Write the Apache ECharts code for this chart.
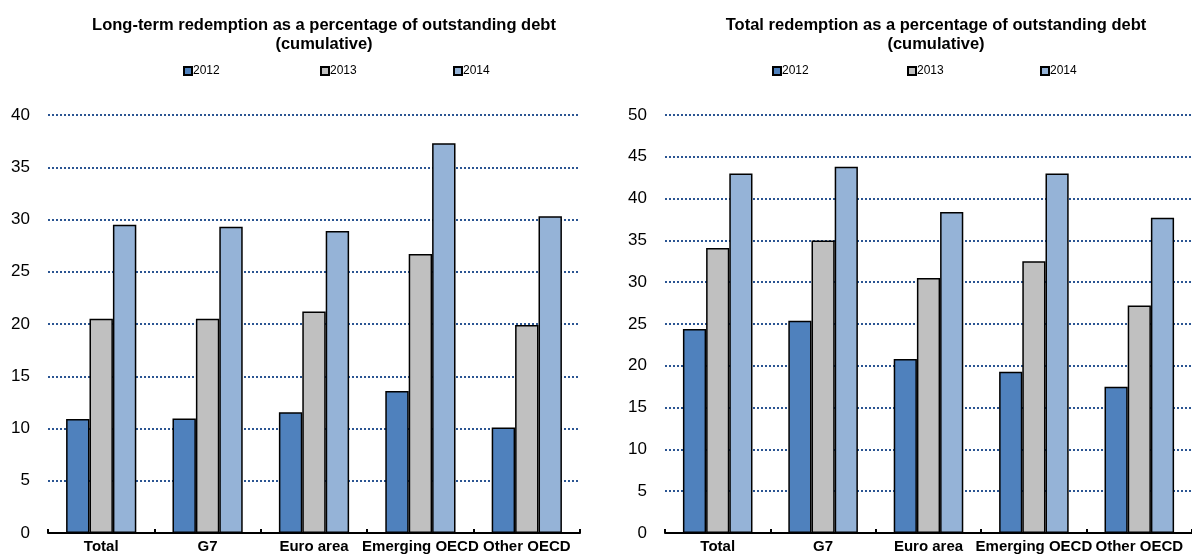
<!DOCTYPE html>
<html>
<head>
<meta charset="utf-8">
<script src="https://cdn.jsdelivr.net/npm/echarts@6/dist/echarts.min.js"></script>
<style>
  html, body { margin: 0; padding: 0; background: #ffffff; }
  #chart { width: 1192px; height: 554px; }
</style>
</head>
<body>
<div id="chart"></div>
<script>
// Country groups on the category axis
const categories = ['Total', 'G7', 'Euro area', 'Emerging OECD', 'Other OECD'];
const years = ['2012', '2013', '2014'];

// Long-term redemption as % of outstanding debt (cumulative)
const longTerm2012 = [10.9, 10.95, 11.55, 13.6, 10.1];
const longTerm2013 = [20.5, 20.5, 21.2, 26.7, 19.9];
const longTerm2014 = [29.5, 29.3, 28.9, 37.3, 30.3];

// Total redemption as % of outstanding debt (cumulative)
const total2012 = [24.4, 25.4, 20.8, 19.3, 17.5];
const total2013 = [34.1, 35.0, 30.5, 32.5, 27.2];
const total2014 = [43.0, 43.8, 38.4, 43.0, 37.7];

// Value-axis tick labels
const leftTicks = ['0', '5', '10', '15', '20', '25', '30', '35', '40'];
const rightTicks = ['0', '5', '10', '15', '20', '25', '30', '35', '40', '45', '50'];

const titles = [
  'Long-term redemption as a percentage of outstanding debt\n(cumulative)',
  'Total redemption as a percentage of outstanding debt\n(cumulative)'
];

const FONT = '"Liberation Sans", Arial, sans-serif';
const yearColors = ['#4f81bd', '#c0c0c0', '#95b3d7'];

const chart = echarts.init(document.getElementById('chart'), null, { renderer: 'canvas' });

function xAxisFor(gridIndex) {
  return {
    type: 'category',
    gridIndex: gridIndex,
    data: categories,
    axisLine: { show: true, lineStyle: { color: '#000', width: 2 } },
    axisTick: { show: true, inside: true, length: 4, lineStyle: { color: '#000', width: 2 } },
    axisLabel: {
      interval: 0, color: '#000', fontFamily: FONT, fontWeight: 'bold',
      fontSize: 15, margin: 6
    },
    splitLine: { show: false }
  };
}

function yAxisFor(gridIndex, ticks) {
  const maxVal = Number(ticks[ticks.length - 1]);
  return {
    type: 'value',
    gridIndex: gridIndex,
    min: 0,
    max: maxVal,
    interval: 5,
    axisLine: { show: false },
    axisTick: { show: false },
    axisLabel: {
      color: '#000', fontFamily: FONT, fontSize: 17, margin: 18,
      formatter: function (v) { return ticks[Math.round(v / 5)]; }
    },
    splitLine: {
      show: true,
      lineStyle: { color: '#2b5592', width: 2, type: [2, 2] }
    }
  };
}

function barSeries(name, data, axisIndex, colorIndex) {
  return {
    type: 'bar',
    name: name,
    xAxisIndex: axisIndex,
    yAxisIndex: axisIndex,
    data: data,
    barGap: '0%',
    barCategoryGap: '34%',
    itemStyle: { color: yearColors[colorIndex], borderColor: '#000', borderWidth: 1.5 },
    emphasis: { disabled: true },
    animation: false
  };
}

function legendItem(name, left) {
  return {
    data: [name],
    left: left,
    top: 65,
    padding: 0,
    itemWidth: 8,
    itemHeight: 8,
    itemGap: 0,
    icon: 'rect',
    selectedMode: false,
    textStyle: { color: '#000', fontFamily: FONT, fontSize: 12, padding: [0, 0, 0, -4] }
  };
}

const titleStyle = { fontFamily: FONT, fontWeight: 'bold', fontSize: 16.5, lineHeight: 19, color: '#000' };

const option = {
  animation: false,
  backgroundColor: '#ffffff',
  title: [
    { text: titles[0], left: 324, top: 16, padding: 0, textAlign: 'center', textStyle: titleStyle },
    { text: titles[1], left: 936, top: 16, padding: 0, textAlign: 'center', textStyle: titleStyle }
  ],
  legend: [
    legendItem(years[0], 183), legendItem(years[1], 320), legendItem(years[2], 453),
    legendItem(years[0], 772), legendItem(years[1], 907), legendItem(years[2], 1040)
  ],
  grid: [
    { left: 48, top: 115, width: 532, height: 418, containLabel: false },
    { left: 665, top: 115, width: 535, height: 418, containLabel: false }
  ],
  xAxis: [xAxisFor(0), xAxisFor(1)],
  yAxis: [yAxisFor(0, leftTicks), yAxisFor(1, rightTicks)],
  series: [
    barSeries(years[0], longTerm2012, 0, 0),
    barSeries(years[1], longTerm2013, 0, 1),
    barSeries(years[2], longTerm2014, 0, 2),
    barSeries(years[0], total2012, 1, 0),
    barSeries(years[1], total2013, 1, 1),
    barSeries(years[2], total2014, 1, 2)
  ]
};

chart.setOption(option);
</script>
</body>
</html>
